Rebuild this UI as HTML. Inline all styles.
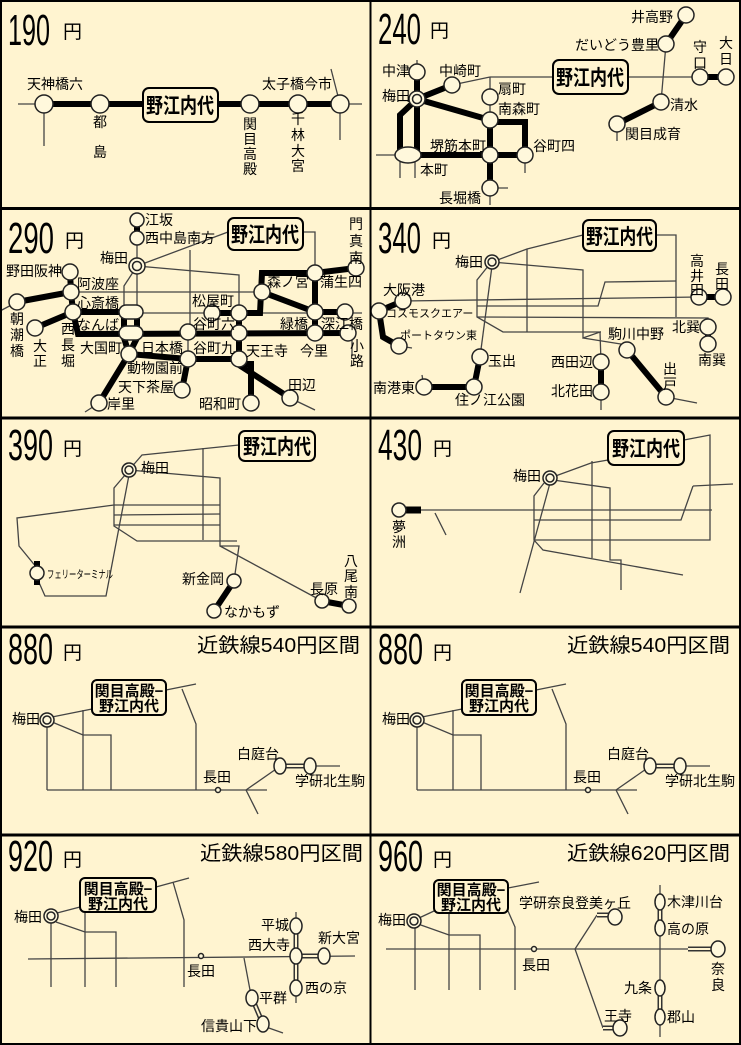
<!DOCTYPE html>
<html><head><meta charset="utf-8"><style>
html,body{margin:0;padding:0;background:#fff4d0;}
svg{display:block;}
text{font-family:"Liberation Sans","Noto Sans CJK JP",sans-serif;fill:#000;}
.t{font-size:14px;}
.s{font-size:11px;}
.big{font-size:44px;}
.yen{font-size:19px;}
.kin{font-size:20px;}
.bx{font-size:21px;font-weight:bold;}
.bx2{font-size:15px;font-weight:bold;}
.th{stroke:#000;stroke-width:6;fill:none;}
.tn{stroke:#444;stroke-width:1.3;fill:none;}
.c{fill:#fff8dc;stroke:#222;stroke-width:1.5;}
.box{fill:#fff4d0;stroke:#000;stroke-width:2;}
</style></head><body>
<svg width="741" height="1045" viewBox="0 0 741 1045" xmlns="http://www.w3.org/2000/svg">
<rect x="0" y="0" width="741" height="1045" fill="#fff4d0"/>

<!-- ===== Panel 1: 190 ===== -->
<text class="big" x="8" y="45" textLength="42" lengthAdjust="spacingAndGlyphs">190</text>
<text class="yen" x="63" y="38">円</text>
<line class="tn" x1="18" y1="104" x2="44" y2="104"/>
<line class="th" x1="44" y1="104" x2="340" y2="104"/>
<line class="tn" x1="340" y1="104" x2="362" y2="104"/>
<line class="tn" x1="44" y1="104" x2="44" y2="146"/>
<line class="tn" x1="340" y1="104" x2="340" y2="140"/>
<line class="tn" x1="331" y1="69" x2="340" y2="104"/>
<circle class="c" cx="44" cy="104" r="9"/><circle class="c" cx="100" cy="104" r="9"/>
<circle class="c" cx="250" cy="104" r="9"/><circle class="c" cx="298" cy="104" r="9"/>
<circle class="c" cx="340" cy="104" r="9"/>
<rect class="box" x="143" y="88" width="75" height="34" rx="6"/>
<text class="bx" x="146" y="113" textLength="68" lengthAdjust="spacingAndGlyphs">野江内代</text>
<text class="t" x="55" y="89" text-anchor="middle">天神橋六</text>
<text class="t" x="100" y="127" text-anchor="middle">都</text>
<text class="t" x="100" y="157" text-anchor="middle">島</text>
<g class="t" text-anchor="middle"><text x="250" y="129">関</text><text x="250" y="144">目</text><text x="250" y="159">高</text><text x="250" y="174">殿</text></g>
<g class="t" text-anchor="middle"><text x="298" y="124">千</text><text x="298" y="140">林</text><text x="298" y="156">大</text><text x="298" y="171">宮</text></g>
<text class="t" x="297" y="89" text-anchor="middle">太子橋今市</text>

<!-- ===== Panel 2: 240 ===== -->
<text class="big" x="378" y="44" textLength="43" lengthAdjust="spacingAndGlyphs">240</text>
<text class="yen" x="430" y="37">円</text>
<line class="tn" x1="490" y1="77" x2="700" y2="77"/>
<line class="tn" x1="452" y1="85" x2="490" y2="77"/>
<line class="tn" x1="490" y1="77" x2="490" y2="120"/>
<line class="tn" x1="417" y1="60" x2="417" y2="72"/>
<line class="tn" x1="666" y1="44" x2="661" y2="102"/>
<line class="tn" x1="617" y1="124" x2="617" y2="141"/>
<line class="tn" x1="376" y1="155" x2="400" y2="155"/>
<line class="tn" x1="400" y1="160" x2="400" y2="178"/>
<line class="tn" x1="415" y1="160" x2="415" y2="178"/>
<line class="tn" x1="525" y1="155" x2="525" y2="173"/>
<line class="tn" x1="490" y1="188" x2="490" y2="205"/>
<line class="tn" x1="490" y1="188" x2="508" y2="188"/>
<line class="th" x1="417" y1="72" x2="417" y2="155"/>
<line class="th" x1="417" y1="99" x2="452" y2="85"/>
<line class="th" x1="417" y1="99" x2="490" y2="120"/>
<polyline class="th" points="417,99 400,115 400,155"/>
<line class="th" x1="417" y1="155" x2="525" y2="155"/>
<line class="th" x1="490" y1="120" x2="490" y2="188"/>
<polyline class="th" points="490,122 525,122 525,155"/>
<line class="th" x1="686" y1="15" x2="666" y2="44"/>
<line class="th" x1="661" y1="102" x2="617" y2="124"/>
<line class="th" x1="700" y1="77" x2="726" y2="77"/>
<circle class="c" cx="417" cy="72" r="8"/>
<circle class="c" cx="417" cy="99" r="8"/><circle class="c" cx="417" cy="99" r="4.5"/>
<circle class="c" cx="452" cy="85" r="8"/>
<circle class="c" cx="490" cy="97" r="8"/><circle class="c" cx="490" cy="120" r="8"/>
<circle class="c" cx="490" cy="155" r="8"/><circle class="c" cx="525" cy="155" r="8"/>
<circle class="c" cx="490" cy="188" r="8"/>
<ellipse class="c" cx="408" cy="155" rx="13" ry="8"/>
<circle class="c" cx="686" cy="15" r="8"/><circle class="c" cx="666" cy="44" r="8"/>
<circle class="c" cx="700" cy="77" r="8"/><circle class="c" cx="726" cy="77" r="8"/>
<circle class="c" cx="661" cy="102" r="8"/><circle class="c" cx="617" cy="124" r="8"/>
<rect class="box" x="553" y="60" width="75" height="34" rx="6"/>
<text class="bx" x="556" y="85" textLength="68" lengthAdjust="spacingAndGlyphs">野江内代</text>
<text class="t" x="410" y="76" text-anchor="end">中津</text>
<text class="t" x="410" y="101" text-anchor="end">梅田</text>
<text class="t" x="460" y="76" text-anchor="middle">中崎町</text>
<text class="t" x="498" y="94">扇町</text>
<text class="t" x="498" y="114">南森町</text>
<text class="t" x="458" y="151" text-anchor="middle">堺筋本町</text>
<text class="t" x="533" y="151">谷町四</text>
<text class="t" x="420" y="175">本町</text>
<text class="t" x="460" y="203" text-anchor="middle">長堀橋</text>
<text class="t" x="673" y="22" text-anchor="end">井高野</text>
<text class="t" x="659" y="50" text-anchor="end">だいどう豊里</text>
<g class="t" text-anchor="middle"><text x="700" y="52">守</text><text x="700" y="68">口</text><text x="726" y="48">大</text><text x="726" y="64">日</text></g>
<text class="t" x="670" y="110">清水</text>
<text class="t" x="625" y="139">関目成育</text>

<!-- ===== Panel 3: 290 ===== -->
<text class="big" x="8" y="253" textLength="46" lengthAdjust="spacingAndGlyphs">290</text>
<text class="yen" x="65" y="247">円</text>
<line class="tn" x1="137" y1="238" x2="137" y2="306"/>
<line class="tn" x1="137" y1="266" x2="228" y2="232"/>
<polyline class="tn" points="137,266 239,275 239,313"/>
<polyline class="tn" points="137,266 124,286 124,306"/>
<line class="tn" x1="71" y1="292" x2="262" y2="292"/>
<line class="tn" x1="143" y1="313" x2="362" y2="313"/>
<line class="tn" x1="190" y1="250" x2="190" y2="332"/>
<polyline class="tn" points="303,232 315,232 315,273"/>
<line class="tn" x1="0" y1="311" x2="17" y2="302"/>
<line class="tn" x1="188" y1="332" x2="188" y2="359"/>
<line class="tn" x1="352" y1="338" x2="352" y2="356"/>
<line class="th" x1="137" y1="220" x2="137" y2="238"/>
<line class="th" x1="70" y1="272" x2="71" y2="292"/>
<line class="th" x1="17" y1="302" x2="71" y2="292"/>
<line class="th" x1="71" y1="292" x2="73" y2="312"/>
<line class="th" x1="35" y1="328" x2="73" y2="312"/>
<line class="th" x1="73" y1="312" x2="130" y2="312"/>
<polyline class="th" points="73,312 78,334 348,333"/>
<line class="th" x1="124" y1="312" x2="124" y2="334"/>
<line class="th" x1="137" y1="306" x2="137" y2="334"/>
<polyline class="th" points="124,338 129,354 137,338"/>
<line class="th" x1="129" y1="354" x2="99" y2="403"/>
<polyline class="th" points="129,354 188,359 239,359"/>
<line class="th" x1="188" y1="359" x2="182" y2="390"/>
<line class="th" x1="239" y1="313" x2="239" y2="359"/>
<polyline class="th" points="239,359 242,364 251,364 251,403"/>
<line class="th" x1="239" y1="365" x2="290" y2="398"/>
<polyline class="th" points="212,313 260,313 262,273 315,273 356,268"/>
<line class="th" x1="262" y1="292" x2="315" y2="312"/>
<line class="th" x1="315" y1="273" x2="315" y2="333"/>
<line class="th" x1="315" y1="312" x2="345" y2="312"/>
<line class="tn" x1="290" y1="398" x2="315" y2="410"/>
<line class="tn" x1="99" y1="403" x2="85" y2="412"/>
<circle class="c" cx="137" cy="220" r="7"/><circle class="c" cx="137" cy="238" r="7"/>
<circle class="c" cx="137" cy="266" r="8"/><circle class="c" cx="137" cy="266" r="4.5"/>
<circle class="c" cx="70" cy="272" r="8"/><circle class="c" cx="71" cy="292" r="8"/>
<circle class="c" cx="73" cy="312" r="8"/><circle class="c" cx="17" cy="302" r="8"/>
<circle class="c" cx="35" cy="328" r="8"/>
<rect class="c" x="119" y="305" width="24" height="14" rx="7"/>
<rect class="c" x="119" y="326" width="24" height="14" rx="7"/>
<circle class="c" cx="129" cy="354" r="8"/>
<circle class="c" cx="188" cy="332" r="8"/><circle class="c" cx="188" cy="359" r="8"/>
<circle class="c" cx="212" cy="313" r="8"/><circle class="c" cx="239" cy="313" r="8"/>
<circle class="c" cx="239" cy="333" r="8"/><circle class="c" cx="239" cy="359" r="8"/>
<circle class="c" cx="182" cy="390" r="8"/><circle class="c" cx="99" cy="403" r="8"/>
<circle class="c" cx="251" cy="403" r="8"/><circle class="c" cx="290" cy="398" r="8"/>
<circle class="c" cx="262" cy="292" r="8"/><circle class="c" cx="315" cy="273" r="8"/>
<circle class="c" cx="356" cy="268" r="8"/><circle class="c" cx="315" cy="312" r="8"/>
<circle class="c" cx="345" cy="312" r="8"/><circle class="c" cx="315" cy="333" r="8"/>
<circle class="c" cx="348" cy="333" r="8"/>
<rect class="box" x="228" y="218" width="75" height="32" rx="6"/>
<text class="bx" x="231" y="242" textLength="68" lengthAdjust="spacingAndGlyphs">野江内代</text>
<text class="t" x="145" y="225">江坂</text>
<text class="t" x="145" y="243">西中島南方</text>
<text class="t" x="128" y="263" text-anchor="end">梅田</text>
<text class="t" x="62" y="276" text-anchor="end">野田阪神</text>
<text class="t" x="77" y="289">阿波座</text>
<text class="t" x="77" y="308">心斎橋</text>
<text class="t" x="77" y="330">なんば</text>
<g class="t" text-anchor="middle">
<text x="17" y="324">朝</text><text x="17" y="340">潮</text><text x="17" y="356">橋</text>
<text x="40" y="351">大</text><text x="40" y="366">正</text>
<text x="68" y="334">西</text><text x="68" y="350">長</text><text x="68" y="366">堀</text>
<text x="357" y="351">小</text><text x="357" y="366">路</text>
<text x="356" y="229">門</text><text x="356" y="246">真</text><text x="356" y="263">南</text>
</g>
<text class="t" x="80" y="353">大国町</text>
<text class="t" x="141" y="353">日本橋</text>
<text class="t" x="193" y="353">谷町九</text>
<text class="t" x="246" y="356">天王寺</text>
<text class="t" x="300" y="356">今里</text>
<text class="t" x="127" y="373">動物園前</text>
<text class="t" x="118" y="392">天下茶屋</text>
<text class="t" x="107" y="409">岸里</text>
<text class="t" x="241" y="409" text-anchor="end">昭和町</text>
<text class="t" x="288" y="390">田辺</text>
<text class="t" x="192" y="306">松屋町</text>
<text class="t" x="193" y="329">谷町六</text>
<text class="t" x="267" y="287">森ノ宮</text>
<text class="t" x="320" y="287">蒲生四</text>
<text class="t" x="280" y="329">緑橋</text>
<text class="t" x="321" y="329">深江橋</text>

<!-- ===== Panel 4: 340 ===== -->
<text class="big" x="378" y="253" textLength="43" lengthAdjust="spacingAndGlyphs">340</text>
<text class="yen" x="432" y="247">円</text>
<polyline class="tn" points="583,235 527,249 492,262"/>
<line class="tn" x1="527" y1="249" x2="527" y2="332"/>
<polyline class="tn" points="492,262 583,270 583,338 600,332 601,362"/>
<polyline class="tn" points="583,338 627,345"/>
<polyline class="tn" points="489,265 477,280 477,317 503,332 601,332"/>
<line class="tn" x1="492" y1="266" x2="480" y2="357"/>
<line class="tn" x1="403" y1="301" x2="699" y2="297"/>
<polyline class="tn" points="477,306 598,306 605,282 676,281"/>
<polyline class="tn" points="656,235 676,235 676,317"/>
<polyline class="tn" points="477,317 708,318 708,327"/>
<line class="tn" x1="666" y1="397" x2="697" y2="403"/>
<line class="tn" x1="422" y1="375" x2="424" y2="387"/>
<line class="tn" x1="601" y1="392" x2="601" y2="410"/>
<line class="tn" x1="399" y1="346" x2="412" y2="348"/>
<polyline class="th" points="403,301 379,311 383,337 399,346"/>
<polyline class="th" points="424,387 474,387 480,357"/>
<line class="th" x1="601" y1="362" x2="601" y2="392"/>
<line class="th" x1="627" y1="350" x2="666" y2="397"/>
<line class="th" x1="699" y1="297" x2="723" y2="297"/>
<line class="th" x1="708" y1="327" x2="708" y2="344"/>
<circle class="c" cx="492" cy="262" r="7"/><circle class="c" cx="492" cy="262" r="4"/>
<circle class="c" cx="403" cy="301" r="8"/><circle class="c" cx="379" cy="311" r="8"/>
<circle class="c" cx="399" cy="346" r="8"/><circle class="c" cx="480" cy="357" r="8"/>
<circle class="c" cx="474" cy="387" r="8"/><circle class="c" cx="424" cy="387" r="8"/>
<circle class="c" cx="601" cy="362" r="8"/><circle class="c" cx="601" cy="392" r="8"/>
<circle class="c" cx="627" cy="350" r="8"/><circle class="c" cx="666" cy="397" r="8"/>
<circle class="c" cx="699" cy="297" r="8"/><circle class="c" cx="723" cy="297" r="8"/>
<circle class="c" cx="708" cy="327" r="8"/><circle class="c" cx="708" cy="344" r="8"/>
<rect class="box" x="583" y="220" width="73" height="31" rx="6"/>
<text class="bx" x="586" y="244" textLength="67" lengthAdjust="spacingAndGlyphs">野江内代</text>
<text class="t" x="483" y="267" text-anchor="end">梅田</text>
<text class="t" x="383" y="295">大阪港</text>
<text class="s" x="386" y="317">コスモスクエアー</text>
<text class="s" x="400" y="339">ポートタウン東</text>
<text class="t" x="488" y="366">玉出</text>
<text class="t" x="415" y="393" text-anchor="end">南港東</text>
<text class="t" x="455" y="405">住ノ江公園</text>
<text class="t" x="593" y="367" text-anchor="end">西田辺</text>
<text class="t" x="593" y="396" text-anchor="end">北花田</text>
<text class="t" x="608" y="339">駒川中野</text>
<g class="t" text-anchor="middle">
<text x="670" y="374">出</text><text x="670" y="389">戸</text>
<text x="697" y="266">高</text><text x="697" y="281">井</text><text x="697" y="295">田</text>
<text x="722" y="274">長</text><text x="722" y="289">田</text>
</g>
<text class="t" x="686" y="332" text-anchor="middle">北巽</text>
<text class="t" x="712" y="365" text-anchor="middle">南巽</text>

<!-- ===== Panel 5: 390 ===== -->
<text class="big" x="8" y="460" textLength="45" lengthAdjust="spacingAndGlyphs">390</text>
<text class="yen" x="63" y="455">円</text>
<polyline class="tn" points="239,445 142,455 129,470"/>
<line class="tn" x1="203" y1="448" x2="203" y2="540"/>
<polyline class="tn" points="129,470 220,478 220,546 239,546 234,581"/>
<line class="tn" x1="220" y1="546" x2="322" y2="601"/>
<polyline class="tn" points="125,475 114,488 114,526 137,541 237,541"/>
<polyline class="tn" points="129,475 106,596 45,596 37,578"/>
<polyline class="tn" points="37,568 19,546 17,518 114,505"/>
<line class="tn" x1="114" y1="505" x2="220" y2="505"/>
<line class="tn" x1="114" y1="515" x2="220" y2="514"/>
<line class="tn" x1="114" y1="525" x2="220" y2="525"/>
<line class="th" x1="234" y1="581" x2="214" y2="611"/>
<line class="th" x1="322" y1="601" x2="349" y2="606"/>
<rect x="34" y="561" width="6" height="24" fill="#000"/>
<circle class="c" cx="129" cy="470" r="7"/><circle class="c" cx="129" cy="470" r="4"/>
<circle class="c" cx="37" cy="573" r="7"/>
<circle class="c" cx="234" cy="581" r="7"/><circle class="c" cx="214" cy="611" r="7"/>
<circle class="c" cx="322" cy="601" r="7"/><circle class="c" cx="349" cy="606" r="7"/>
<rect class="box" x="239" y="431" width="76" height="30" rx="6"/>
<text class="bx" x="243" y="454" textLength="68" lengthAdjust="spacingAndGlyphs">野江内代</text>
<text class="t" x="141" y="473">梅田</text>
<text class="s" x="47" y="578" textLength="66" lengthAdjust="spacingAndGlyphs">フェリーターミナル</text>
<text class="t" x="224" y="584" text-anchor="end">新金岡</text>
<text class="t" x="224" y="617">なかもず</text>
<text class="t" x="324" y="594" text-anchor="middle">長原</text>
<g class="t" text-anchor="middle"><text x="351" y="566">八</text><text x="351" y="581">尾</text><text x="351" y="597">南</text></g>

<!-- ===== Panel 6: 430 ===== -->
<text class="big" x="378" y="460" textLength="44" lengthAdjust="spacingAndGlyphs">430</text>
<text class="yen" x="433" y="455">円</text>
<polyline class="tn" points="608,460 591,463 550,478"/>
<polyline class="tn" points="684,440 710,435 710,540 534,540"/>
<line class="tn" x1="693" y1="486" x2="733" y2="484"/>
<polyline class="tn" points="693,486 681,520 534,520"/>
<line class="tn" x1="421" y1="510" x2="712" y2="510"/>
<line class="tn" x1="435" y1="513" x2="446" y2="535"/>
<polyline class="tn" points="544,483 534,496 534,540 543,550 683,575"/>
<line class="tn" x1="550" y1="483" x2="520" y2="593"/>
<polyline class="tn" points="553,480 610,488 610,560 621,560 621,590"/>
<line class="tn" x1="592" y1="461" x2="592" y2="558"/>
<line x1="406" y1="510" x2="421" y2="510" stroke="#000" stroke-width="7"/>
<circle class="c" cx="550" cy="478" r="7"/><circle class="c" cx="550" cy="478" r="4"/>
<circle class="c" cx="399" cy="510" r="7"/>
<rect class="box" x="608" y="431" width="76" height="34" rx="6"/>
<text class="bx" x="612" y="456" textLength="68" lengthAdjust="spacingAndGlyphs">野江内代</text>
<text class="t" x="541" y="481" text-anchor="end">梅田</text>
<g class="t" text-anchor="middle"><text x="399" y="532">夢</text><text x="399" y="547">洲</text></g>

<!-- ===== Panel 7 & 8: 880 ===== -->
<g id="p880">
<text class="big" x="8" y="664" textLength="45" lengthAdjust="spacingAndGlyphs">880</text>
<text class="yen" x="63" y="659">円</text>
<text class="kin" x="197" y="652" textLength="163" lengthAdjust="spacingAndGlyphs">近鉄線540円区間</text>
<line class="tn" x1="52" y1="717" x2="92" y2="709"/>
<line class="tn" x1="166" y1="690" x2="196" y2="684"/>
<polyline class="tn" points="182,689 196,724 196,790"/>
<polyline class="tn" points="52,722 83,735 111,735 111,790"/>
<line class="tn" x1="83" y1="710" x2="83" y2="790"/>
<line class="tn" x1="47" y1="725" x2="47" y2="790"/>
<line class="tn" x1="47" y1="790" x2="267" y2="790"/>
<line class="tn" x1="246" y1="790" x2="279" y2="767"/>
<line class="tn" x1="246" y1="790" x2="258" y2="814"/>
<line class="tn" x1="315" y1="766" x2="340" y2="766"/>
<line x1="280" y1="766" x2="310" y2="766" stroke="#333" stroke-width="5"/>
<line x1="280" y1="766" x2="310" y2="766" stroke="#fff4d0" stroke-width="2"/>
<circle class="c" cx="218" cy="790" r="2.5"/>
<circle class="c" cx="47" cy="720" r="7"/><circle class="c" cx="47" cy="720" r="4"/>
<ellipse class="c" cx="280" cy="766" rx="6" ry="8"/><ellipse class="c" cx="310" cy="766" rx="6" ry="8"/>
<rect class="box" x="92" y="680" width="74" height="35" rx="5"/>
<text class="bx2" x="129" y="696" text-anchor="middle">関目高殿−</text>
<text class="bx2" x="129" y="711" text-anchor="middle">野江内代</text>
<text class="t" x="40" y="724" text-anchor="end">梅田</text>
<text class="t" x="217" y="782" text-anchor="middle">長田</text>
<text class="t" x="258" y="759" text-anchor="middle">白庭台</text>
<text class="t" x="330" y="786" text-anchor="middle">学研北生駒</text>
</g>
<use href="#p880" x="370" y="0"/>

<!-- ===== Panel 9: 920 ===== -->
<text class="big" x="8" y="871" textLength="45" lengthAdjust="spacingAndGlyphs">920</text>
<text class="yen" x="63" y="866">円</text>
<text class="kin" x="200" y="860" textLength="163" lengthAdjust="spacingAndGlyphs">近鉄線580円区間</text>
<line class="tn" x1="57" y1="913" x2="80" y2="907"/>
<line class="tn" x1="156" y1="887" x2="189" y2="878"/>
<polyline class="tn" points="173,882 184,920 184,987"/>
<polyline class="tn" points="56,922 85,932 116,932 116,987"/>
<line class="tn" x1="85" y1="913" x2="85" y2="987"/>
<line class="tn" x1="51" y1="922" x2="51" y2="987"/>
<line class="tn" x1="28" y1="959" x2="355" y2="956"/>
<line class="tn" x1="296" y1="912" x2="296" y2="1003"/>
<line class="tn" x1="244" y1="958" x2="250" y2="990"/>
<line class="tn" x1="266" y1="1027" x2="283" y2="1033"/>
<g stroke="#333" stroke-width="5" fill="none"><line x1="296" y1="926" x2="296" y2="988"/><line x1="296" y1="956" x2="324" y2="956"/><line x1="252" y1="998" x2="263" y2="1024"/></g>
<g stroke="#fff4d0" stroke-width="2" fill="none"><line x1="296" y1="926" x2="296" y2="988"/><line x1="296" y1="956" x2="324" y2="956"/><line x1="252" y1="998" x2="263" y2="1024"/></g>
<circle class="c" cx="201" cy="956" r="2.5"/>
<circle class="c" cx="51" cy="916" r="7"/><circle class="c" cx="51" cy="916" r="4"/>
<ellipse class="c" cx="296" cy="926" rx="6" ry="8"/><ellipse class="c" cx="296" cy="956" rx="6" ry="8"/>
<ellipse class="c" cx="296" cy="988" rx="6" ry="8"/><ellipse class="c" cx="324" cy="956" rx="6" ry="8"/>
<ellipse class="c" cx="252" cy="998" rx="6" ry="8"/><ellipse class="c" cx="263" cy="1024" rx="6" ry="8"/>
<rect class="box" x="80" y="878" width="76" height="34" rx="5"/>
<text class="bx2" x="118" y="894" text-anchor="middle">関目高殿−</text>
<text class="bx2" x="118" y="909" text-anchor="middle">野江内代</text>
<text class="t" x="42" y="922" text-anchor="end">梅田</text>
<text class="t" x="201" y="976" text-anchor="middle">長田</text>
<text class="t" x="289" y="930" text-anchor="end">平城</text>
<text class="t" x="290" y="950" text-anchor="end">西大寺</text>
<text class="t" x="339" y="943" text-anchor="middle">新大宮</text>
<text class="t" x="305" y="993">西の京</text>
<text class="t" x="259" y="1003">平群</text>
<text class="t" x="257" y="1031" text-anchor="end">信貴山下</text>

<!-- ===== Panel 10: 960 ===== -->
<text class="big" x="378" y="871" textLength="45" lengthAdjust="spacingAndGlyphs">960</text>
<text class="yen" x="433" y="866">円</text>
<text class="kin" x="567" y="860" textLength="163" lengthAdjust="spacingAndGlyphs">近鉄線620円区間</text>
<line class="tn" x1="419" y1="918" x2="434" y2="911"/>
<line class="tn" x1="508" y1="888" x2="539" y2="882"/>
<polyline class="tn" points="508,911 515,927 515,990"/>
<polyline class="tn" points="418,924 449,935 480,935 480,990"/>
<line class="tn" x1="449" y1="913" x2="449" y2="990"/>
<line class="tn" x1="415" y1="926" x2="415" y2="990"/>
<line class="tn" x1="386" y1="949" x2="688" y2="949"/>
<line class="tn" x1="575" y1="949" x2="597" y2="915"/>
<line class="tn" x1="575" y1="949" x2="603" y2="1028"/>
<line class="tn" x1="660" y1="885" x2="660" y2="1037"/>
<g stroke="#333" stroke-width="5" fill="none"><line x1="597" y1="915" x2="615" y2="915"/><line x1="603" y1="1028" x2="620" y2="1028"/><line x1="688" y1="949" x2="718" y2="949"/><line x1="660" y1="902" x2="660" y2="928"/><line x1="660" y1="988" x2="660" y2="1017"/></g>
<g stroke="#fff4d0" stroke-width="2" fill="none"><line x1="597" y1="915" x2="612" y2="915"/><line x1="603" y1="1028" x2="616" y2="1028"/><line x1="688" y1="949" x2="714" y2="949"/><line x1="660" y1="902" x2="660" y2="928"/><line x1="660" y1="988" x2="660" y2="1017"/></g>
<circle class="c" cx="534" cy="949" r="2.5"/>
<circle class="c" cx="414" cy="921" r="7"/><circle class="c" cx="414" cy="921" r="4"/>
<ellipse class="c" cx="615" cy="917" rx="7" ry="8"/><ellipse class="c" cx="620" cy="1028" rx="7" ry="8"/>
<ellipse class="c" cx="718" cy="949" rx="7" ry="8"/>
<ellipse class="c" cx="660" cy="902" rx="5" ry="8"/><ellipse class="c" cx="660" cy="928" rx="5" ry="8"/>
<ellipse class="c" cx="660" cy="988" rx="5" ry="8"/><ellipse class="c" cx="660" cy="1017" rx="5" ry="8"/>
<rect class="box" x="434" y="880" width="74" height="33" rx="5"/>
<text class="bx2" x="471" y="895" text-anchor="middle">関目高殿−</text>
<text class="bx2" x="471" y="910" text-anchor="middle">野江内代</text>
<text class="t" x="406" y="925" text-anchor="end">梅田</text>
<text class="t" x="536" y="970" text-anchor="middle">長田</text>
<text class="t" x="575" y="908" text-anchor="middle">学研奈良登美ヶ丘</text>
<text class="t" x="667" y="907">木津川台</text>
<text class="t" x="667" y="934">高の原</text>
<text class="t" x="652" y="993" text-anchor="end">九条</text>
<text class="t" x="667" y="1022">郡山</text>
<text class="t" x="618" y="1021" text-anchor="middle">王寺</text>
<g class="t" text-anchor="middle"><text x="718" y="974">奈</text><text x="718" y="990">良</text></g>

<!-- ===== Grid ===== -->
<g stroke="#000" fill="none">
<rect x="1" y="1" width="739" height="1043" stroke-width="2"/>
<line x1="370.5" y1="0" x2="370.5" y2="1045" stroke-width="2"/>
<line x1="0" y1="208.5" x2="741" y2="208.5" stroke-width="3"/>
<line x1="0" y1="418" x2="741" y2="418" stroke-width="3"/>
<line x1="0" y1="627" x2="741" y2="627" stroke-width="3"/>
<line x1="0" y1="835" x2="741" y2="835" stroke-width="3"/>
</g>
</svg>
</body></html>
